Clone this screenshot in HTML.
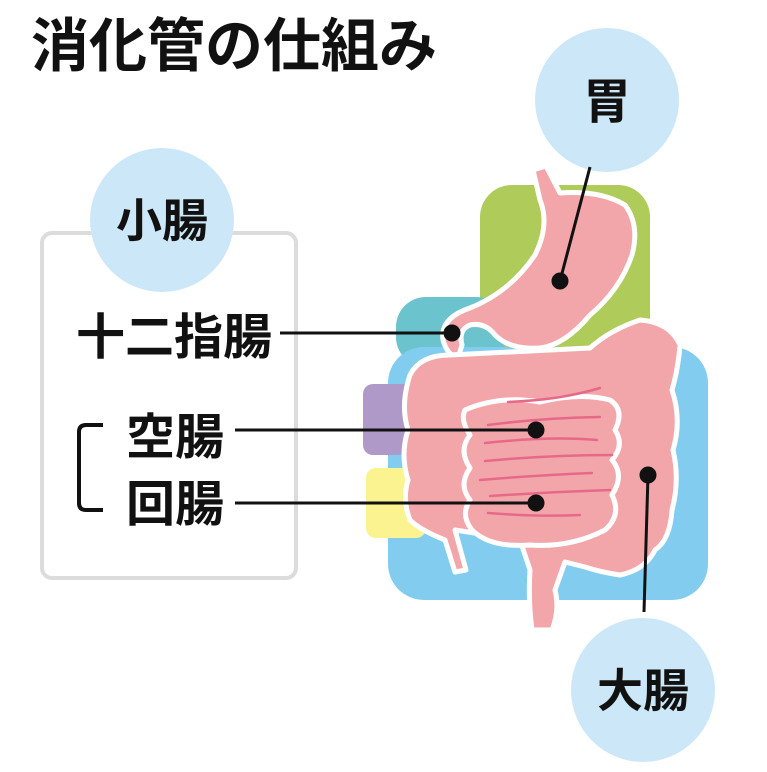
<!DOCTYPE html>
<html><head><meta charset="utf-8"><style>
body{margin:0;background:#fff;}
svg text{font-family:"Liberation Sans","Noto Sans CJK JP",sans-serif;font-weight:bold;fill:#111;}
</style></head><body>
<svg width="767" height="767" viewBox="0 0 767 767" xmlns="http://www.w3.org/2000/svg">
<text x="31" y="66" font-size="58">消化管の仕組み</text>
<rect x="42" y="233" width="254" height="345" rx="10" fill="none" stroke="#dcdcdc" stroke-width="4"/>
<circle cx="162" cy="220" r="72" fill="#cce8f8"/>
<text x="162" y="237" font-size="46" text-anchor="middle">小腸</text>
<circle cx="607" cy="100" r="72" fill="#cce8f8"/>
<text x="607" y="118" font-size="48" text-anchor="middle">胃</text>
<circle cx="643" cy="690" r="72" fill="#cce8f8"/>
<text x="643" y="707" font-size="46" text-anchor="middle">大腸</text>
<text x="76" y="354" font-size="49">十二指腸</text>
<text x="126" y="454" font-size="49">空腸</text>
<text x="126" y="521" font-size="49">回腸</text>
<path d="M103 425 H86 Q79 425 79 432 V503 Q79 510 86 510 H103" fill="none" stroke="#111" stroke-width="4"/>
<rect x="480" y="185" width="170" height="175" rx="32" fill="#afcb5a"/>
<rect x="396" y="297" width="110" height="70" rx="30" fill="#6bc4cd"/>
<rect x="388" y="347" width="320" height="253" rx="36" fill="#82ccf0"/>
<rect x="363" y="384" width="60" height="71" rx="10" fill="#af99c8"/>
<rect x="366" y="468" width="60" height="70" rx="10" fill="#fbf38f"/>
<g fill="#f2a6aa" stroke="#fff" stroke-width="5" stroke-linejoin="round">
<path d="M533 170 L546 166 L560 193 Q600 190 625 205 Q640 225 632 255 Q620 290 590 315 Q565 345 540 348 Q510 350 495 335 Q485 322 470 325 Q458 330 462 345 L458 358 Q447 355 443 340 Q440 318 470 308 Q510 292 535 255 Q550 225 540 200 Z"/>
<path d="M410 375 Q420 355 450 355 L590 348 Q610 330 640 320 Q670 322 680 345 Q678 370 672 390 Q682 420 673 450 Q680 480 672 510 Q670 540 655 550 Q645 570 620 575 Q600 572 585 567 L565 562 L555 590 Q560 610 552 630 L532 630 Q528 600 530 570 L520 540 L455 530 L466 570 L455 572 L445 540 Q420 530 410 520 Q402 500 408 480 Q400 455 408 430 Q400 405 410 375 Z"/>
<path d="M465 410 Q500 395 540 402 Q580 392 610 400 Q625 410 615 430 Q625 445 612 460 Q625 475 612 495 Q622 515 605 530 Q570 548 530 545 Q490 548 472 530 Q460 515 470 500 Q458 485 470 468 Q458 450 470 435 Q460 420 465 410 Z"/>
</g>
<g fill="none" stroke="#e7698a" stroke-width="2.5" stroke-linecap="round">
<path d="M508 402 Q560 400 600 388"/>
<path d="M488 425 Q540 418 600 417"/>
<path d="M485 443 Q550 436 597 440"/>
<path d="M485 461 Q550 455 612 455"/>
<path d="M480 480 Q540 475 592 473"/>
<path d="M490 496 Q550 492 610 490"/>
<path d="M488 513 Q540 517 580 515"/>
</g>
<g stroke="#111" stroke-width="3" fill="#111">
<line x1="280" y1="333" x2="452" y2="333"/><circle cx="452" cy="333" r="7"/>
<line x1="235" y1="430" x2="536" y2="430"/><circle cx="536" cy="430" r="7"/>
<line x1="235" y1="503" x2="536" y2="503"/><circle cx="536" cy="503" r="7"/>
<line x1="590" y1="167" x2="560" y2="281"/><circle cx="560" cy="281" r="7"/>
<line x1="648" y1="475" x2="644" y2="612"/><circle cx="648" cy="475" r="7"/>
</g>
</svg>
</body></html>
